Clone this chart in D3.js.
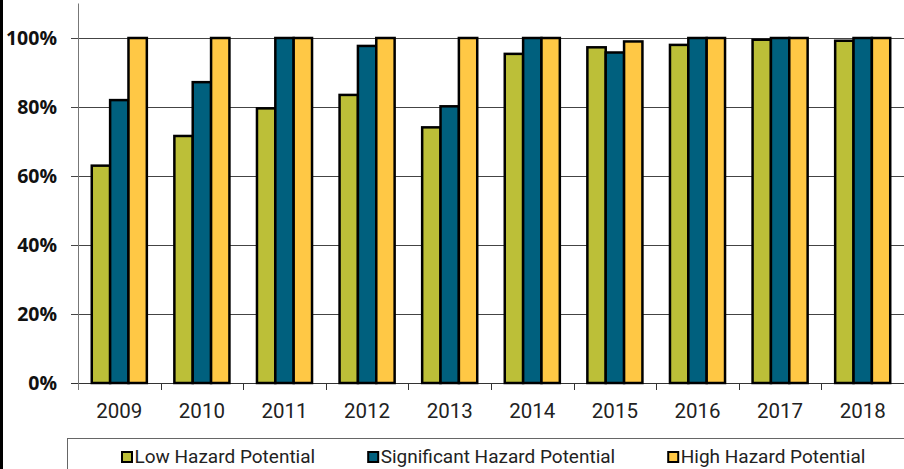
<!DOCTYPE html>
<html>
<head>
<meta charset="utf-8">
<script src="https://cdn.jsdelivr.net/npm/d3@7"></script>
<style>
  body { margin: 0; background: #fff; }
  svg { display: block; }
</style>
</head>
<body>
<div id="chart"></div>
<script>
// values (percent)
const years = ["2009", "2010", "2011", "2012", "2013", "2014", "2015", "2016", "2017", "2018"];
const seriesNames = ["Low Hazard Potential", "Significant Hazard Potential", "High Hazard Potential"];
const lowValues = [63.0, 71.6, 79.6, 83.5, 74.1, 95.4, 97.3, 98.0, 99.5, 99.2];
const significantValues = [82.0, 87.2, 100, 97.7, 80.2, 100, 95.8, 100, 100, 100];
const highValues = [100, 100, 100, 100, 100, 100, 99.0, 100, 100, 100];
const yTicks = [0, 20, 40, 60, 80, 100];

const colors = ["#bcbf38", "#00607e", "#ffc845"];

const width = 904;
const height = 469;
const margin = { top: 3.5, right: 0, bottom: 86, left: 78 };

// rows for grouped bars
const rows = years.map((year, i) => ({
  year,
  values: [lowValues[i], significantValues[i], highValues[i]]
}));

const svg = d3.select("#chart").append("svg")
  .attr("width", width)
  .attr("height", height);

const x0 = d3.scaleBand()
  .domain(years)
  .range([margin.left, width - margin.right])
  .padding(0);

const x1 = d3.scaleBand()
  .domain(d3.range(seriesNames.length))
  .range([0, x0.bandwidth()])
  .paddingInner(0)
  .paddingOuter(0.75);

const y = d3.scaleLinear()
  .domain([0, 110])
  .range([height - margin.bottom, margin.top]);

// gridlines + small ticks left of the axis
svg.append("g")
  .selectAll("line")
  .data(yTicks)
  .join("line")
  .attr("x1", margin.left - 7)
  .attr("x2", width)
  .attr("y1", d => Math.round(y(d)) + 0.5)
  .attr("y2", d => Math.round(y(d)) + 0.5)
  .attr("stroke", d => d === 0 ? "#333" : "#444")
  .attr("stroke-width", 1);

// y axis line
svg.append("line")
  .attr("x1", margin.left + 0.5)
  .attr("x2", margin.left + 0.5)
  .attr("y1", y(110))
  .attr("y2", y(0) + 7)
  .attr("stroke", "#777")
  .attr("stroke-width", 1);

// y tick labels
svg.append("g")
  .selectAll("text")
  .data(yTicks)
  .join("text")
  .attr("x", 57)
  .attr("y", d => y(d))
  .attr("dy", "0.36em")
  .attr("text-anchor", "end")
  .style("font-family", "'Open Sans', 'Noto Sans', sans-serif")
  .style("font-weight", "bold")
  .style("font-size", "19.5px")
  .style("fill", "#111")
  .text(d => d + "%");

// category ticks at the group boundaries
const boundaries = years.map(d => x0(d)).concat([x0.range()[1]]);
svg.append("g")
  .selectAll("line")
  .data(boundaries.slice(1))
  .join("line")
  .attr("x1", d => Math.round(d) + 0.5)
  .attr("x2", d => Math.round(d) + 0.5)
  .attr("y1", y(0))
  .attr("y2", y(0) + 7)
  .attr("stroke", "#333");

// bars
const groups = svg.append("g")
  .selectAll("g")
  .data(rows)
  .join("g")
  .attr("transform", d => `translate(${x0(d.year)},0)`);

groups.selectAll("rect")
  .data(d => d.values.map((v, i) => ({ v, i })))
  .join("rect")
  .attr("x", d => x1(d.i))
  .attr("y", d => y(d.v))
  .attr("width", x1.bandwidth())
  .attr("height", d => y(0) - y(d.v))
  .attr("fill", d => colors[d.i])
  .attr("stroke", "#000")
  .attr("stroke-width", 2.5);

// year labels
svg.append("g")
  .selectAll("text")
  .data(years)
  .join("text")
  .attr("x", d => x0(d) + x0.bandwidth() / 2)
  .attr("y", 418)
  .attr("text-anchor", "middle")
  .style("font-family", "Roboto, sans-serif")
  .style("font-size", "20.5px")
  .style("fill", "#222")
  .text(d => d);

// legend box (runs off the right and bottom)
svg.append("rect")
  .attr("x", 67.5)
  .attr("y", 438.5)
  .attr("width", width)
  .attr("height", 60)
  .attr("fill", "none")
  .attr("stroke", "#666")
  .attr("stroke-width", 1);

const legend = svg.append("g");
let lx = 121;
seriesNames.forEach((name, i) => {
  legend.append("rect")
    .attr("x", lx + 1)
    .attr("y", 452)
    .attr("width", 10)
    .attr("height", 10)
    .attr("fill", colors[i])
    .attr("stroke", "#000")
    .attr("stroke-width", 2);
  const t = legend.append("text")
    .attr("x", lx + 13.5)
    .attr("y", 463)
    .style("font-family", "Roboto, sans-serif")
    .style("font-size", "19px")
    .style("fill", "#222")
    .text(name);
  lx += 13.5 + t.node().getComputedTextLength() + 52;
});

// left frame edge
svg.append("line")
  .attr("x1", 1.5)
  .attr("x2", 1.5)
  .attr("y1", 0)
  .attr("y2", height)
  .attr("stroke", "#000")
  .attr("stroke-width", 3);
</script>
</body>
</html>
